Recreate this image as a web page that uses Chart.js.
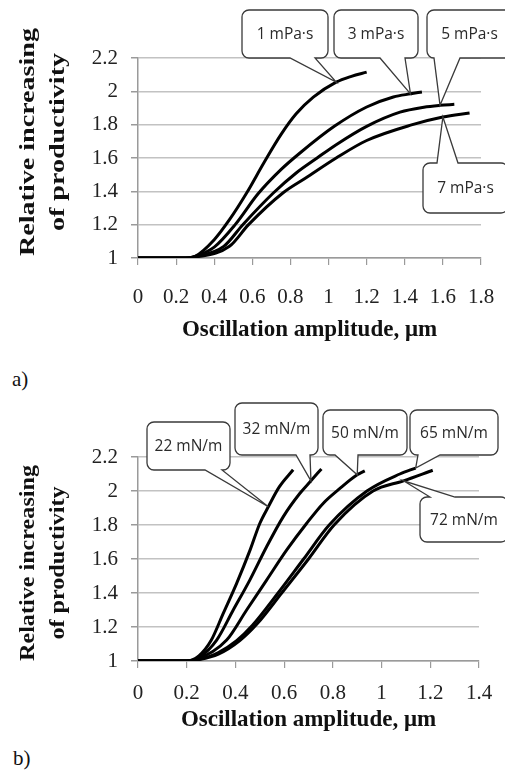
<!DOCTYPE html>
<html>
<head>
<meta charset="utf-8">
<script src="https://cdn.jsdelivr.net/npm/chart.js@4.4.1/dist/chart.umd.min.js"></script>
<style>
  html, body { margin: 0; padding: 0; background: #fff; }
  body { width: 505px; height: 778px; position: relative; overflow: hidden; }
  .box { position: absolute; left: 0; width: 505px; }
  #boxA { top: 0; height: 350px; }
  #boxB { top: 380px; height: 355px; }
  .tag { position: absolute; font: 21px "Liberation Serif", serif; color: #111; line-height: 24px; }
</style>
</head>
<body>
<div class="box" id="boxA"><canvas id="chartA"></canvas></div>
<span class="tag" style="left:12px; top:367px;">a)</span>
<div class="box" id="boxB"><canvas id="chartB"></canvas></div>
<span class="tag" style="left:13px; top:746px;">b)</span>
<script>
// texts
const yTitleLines = ['Relative increasing', 'of productivity'];
const xTitle = 'Oscillation amplitude, μm';

// tick values + labels
const yTickValues = [1, 1.2, 1.4, 1.6, 1.8, 2, 2.2];
const yTickLabels = ['1', '1.2', '1.4', '1.6', '1.8', '2', '2.2'];
const xTickValuesA = [0, 0.2, 0.4, 0.6, 0.8, 1, 1.2, 1.4, 1.6, 1.8];
const xTickLabelsA = ['0', '0.2', '0.4', '0.6', '0.8', '1', '1.2', '1.4', '1.6', '1.8'];
const xTickValuesB = [0, 0.2, 0.4, 0.6, 0.8, 1, 1.2, 1.4];
const xTickLabelsB = ['0', '0.2', '0.4', '0.6', '0.8', '1', '1.2', '1.4'];

// a) viscosity
const namesA = ['1 mPa·s', '3 mPa·s', '5 mPa·s', '7 mPa·s'];
const visc1X = [0, 0.25, 0.3, 0.4, 0.48, 0.57, 0.66, 0.75, 0.83, 0.92, 1.04, 1.12, 1.2];
const visc1Y = [1, 1, 1.01, 1.11, 1.23, 1.39, 1.57, 1.74, 1.865, 1.965, 2.055, 2.09, 2.115];
const visc3X = [0, 0.25, 0.3, 0.4, 0.51, 0.63, 0.75, 0.85, 1.03, 1.2, 1.34, 1.43, 1.49];
const visc3Y = [1, 1, 1.01, 1.065, 1.2, 1.385, 1.53, 1.63, 1.79, 1.906, 1.966, 1.985, 1.996];
const visc5X = [0, 0.25, 0.3, 0.45, 0.55, 0.71, 0.83, 0.94, 1.04, 1.2, 1.375, 1.5, 1.585, 1.66];
const visc5Y = [1, 1, 1.008, 1.07, 1.2, 1.39, 1.51, 1.6, 1.68, 1.79, 1.875, 1.905, 1.916, 1.922];
const visc7X = [0, 0.25, 0.3, 0.48, 0.58, 0.76, 0.88, 1.04, 1.2, 1.44, 1.6, 1.74];
const visc7Y = [1, 1, 1.005, 1.07, 1.2, 1.39, 1.48, 1.6, 1.705, 1.8, 1.846, 1.87];

// b) surface tension
const namesB = ['22 mN/m', '32 mN/m', '50 mN/m', '65 mN/m', '72 mN/m'];
const st22X = [0, 0.2, 0.25, 0.3, 0.35, 0.405, 0.46, 0.5, 0.535, 0.58, 0.637];
const st22Y = [1, 1, 1.03, 1.12, 1.28, 1.457, 1.652, 1.809, 1.907, 2.024, 2.125];
const st32X = [0, 0.2, 0.25, 0.323, 0.391, 0.459, 0.528, 0.596, 0.664, 0.71, 0.753];
const st32Y = [1, 1, 1.02, 1.123, 1.3, 1.476, 1.672, 1.848, 1.985, 2.06, 2.13];
const st50X = [0, 0.2, 0.25, 0.364, 0.446, 0.528, 0.61, 0.692, 0.76, 0.829, 0.9, 0.931];
const st50Y = [1, 1, 1.015, 1.123, 1.3, 1.476, 1.652, 1.809, 1.927, 2.015, 2.095, 2.118];
const st65X = [0, 0.2, 0.25, 0.33, 0.405, 0.47, 0.575, 0.68, 0.785, 0.94, 1.075, 1.14];
const st65Y = [1, 1, 1.01, 1.05, 1.12, 1.21, 1.4, 1.6, 1.8, 2.0, 2.1, 2.135];
const st72X = [0, 0.2, 0.25, 0.33, 0.418, 0.49, 0.59, 0.7, 0.805, 0.965, 1.09, 1.21];
const st72Y = [1, 1, 1.008, 1.04, 1.12, 1.22, 1.4, 1.6, 1.8, 2.0, 2.06, 2.122];

const serif = '"Liberation Serif", "Times New Roman", serif';
const axisGray = '#9a9a9a';

// callout boxes: box = [x, y, w, h] in canvas px, base = where the pointer leaves the box
const calloutsA = [
    { ds: 0, pt: 10, box: [242, 10, 86, 48], side: 'bottom', base: [290, 315] },
    { ds: 1, pt: 11, box: [334, 10, 84, 48], side: 'bottom', base: [380, 405] },
    { ds: 2, pt: 12, box: [427, 10, 85, 48], side: 'bottom', base: [434, 460] },
    { ds: 3, pt: 10, box: [423, 163, 85, 50], side: 'top', base: [437, 458] }
];
const calloutsB = [
    { ds: 0, pt: 8, box: [147, 42, 83, 48], side: 'bottom', base: [205, 222] },
    { ds: 1, pt: 9, box: [235, 23, 83, 52], side: 'bottom', base: [296, 310] },
    { ds: 2, pt: 10, box: [323, 30, 84, 45], side: 'bottom', base: [335, 358] },
    { ds: 3, pt: 11, box: [410, 30, 88, 45], side: 'bottom', base: [418, 440] },
    { ds: 4, pt: 10, box: [420, 117, 88, 45], side: 'top', base: [430, 455] }
];

function series(label, xs, ys) {
    return {
        label: label,
        data: xs.map((x, i) => ({ x: x, y: ys[i] })),
        borderColor: '#000',
        borderWidth: 3,
        pointRadius: 0,
        fill: false,
        cubicInterpolationMode: 'monotone'
    };
}

// 旋轉的 y 軸標題（稍微拉長）
function yTitlePlugin(centerY, length) {
    return {
        id: 'yTitle',
        afterDraw(chart) {
            const ctx = chart.ctx;
            ctx.save();
            ctx.font = 'bold 20px ' + serif;
            ctx.fillStyle = '#111';
            ctx.textAlign = 'center';
            ctx.textBaseline = 'middle';
            const stretch = length / ctx.measureText(yTitleLines[0]).width;
            const xs = [29, 59];
            yTitleLines.forEach((line, i) => {
                ctx.save();
                ctx.translate(xs[i], centerY);
                ctx.rotate(-Math.PI / 2);
                ctx.scale(stretch, 1);
                ctx.fillText(line, 0, 0);
                ctx.restore();
            });
            ctx.restore();
        }
    };
}

// 標註框
function calloutPlugin(items, names) {
    return {
        id: 'callouts',
        afterDatasetsDraw(chart) {
            const ctx = chart.ctx;
            const r = 7;
            items.forEach(c => {
                const el = chart.getDatasetMeta(c.ds).data[c.pt];
                const tx = el.x, ty = el.y;
                const [bx, by, bw, bh] = c.box;
                const x0 = bx, y0 = by, x1 = bx + bw, y1 = by + bh;
                const b0 = Math.max(c.base[0], x0 + r), b1 = Math.min(c.base[1], x1 - r);
                ctx.save();
                ctx.beginPath();
                ctx.moveTo(x0 + r, y0);
                if (c.side === 'top') {
                    ctx.lineTo(b0, y0);
                    ctx.lineTo(tx, ty);
                    ctx.lineTo(b1, y0);
                }
                ctx.lineTo(x1 - r, y0);
                ctx.arcTo(x1, y0, x1, y0 + r, r);
                ctx.lineTo(x1, y1 - r);
                ctx.arcTo(x1, y1, x1 - r, y1, r);
                if (c.side === 'bottom') {
                    ctx.lineTo(b1, y1);
                    ctx.lineTo(tx, ty);
                    ctx.lineTo(b0, y1);
                }
                ctx.lineTo(x0 + r, y1);
                ctx.arcTo(x0, y1, x0, y1 - r, r);
                ctx.lineTo(x0, y0 + r);
                ctx.arcTo(x0, y0, x0 + r, y0, r);
                ctx.closePath();
                ctx.fillStyle = '#fff';
                ctx.fill();
                ctx.strokeStyle = '#3a3a3a';
                ctx.lineWidth = 1.3;
                ctx.stroke();
                ctx.fillStyle = '#2a2a2a';
                ctx.font = '15.5px "Open Sans", sans-serif';
                ctx.textAlign = 'center';
                ctx.textBaseline = 'middle';
                ctx.fillText(names[c.ds], bx + bw / 2, by + bh / 2 + 1);
                ctx.restore();
            });
        }
    };
}

function buildChart(canvasId, cfg) {
    const ctx = document.getElementById(canvasId).getContext('2d');
    return new Chart(ctx, {
        type: 'line',
        data: { datasets: cfg.datasets },
        options: {
            responsive: true,
            maintainAspectRatio: false,
            animation: false,
            layout: { padding: { top: cfg.padTop, right: cfg.padRight, left: 0, bottom: 0 } },
            plugins: {
                legend: { display: false },
                tooltip: { enabled: false }
            },
            scales: {
                x: {
                    type: 'linear',
                    min: 0,
                    max: cfg.xTicks[cfg.xTicks.length - 1],
                    afterBuildTicks: s => { s.ticks = cfg.xTicks.map(v => ({ value: v })); },
                    // 固定軸高，並取消標籤造成的左右內距
                    afterFit: s => {
                        s.height = cfg.xAxisHeight;
                        s.paddingLeft = 0;
                        s.paddingRight = 0;
                    },
                    grid: { drawOnChartArea: false, drawTicks: true, tickLength: 7, color: axisGray, lineWidth: 1.2 },
                    border: { color: axisGray, width: 1.5 },
                    ticks: {
                        callback: (v, i) => cfg.xLabels[i],
                        font: { family: serif, size: 21 },
                        color: '#222',
                        padding: cfg.xTickPad,
                        maxRotation: 0,
                        autoSkip: false
                    },
                    title: {
                        display: true,
                        text: xTitle,
                        font: { family: serif, size: 23, weight: 'bold' },
                        color: '#111',
                        padding: { top: 0, bottom: cfg.xTitlePad }
                    }
                },
                y: {
                    min: 1,
                    max: 2.2,
                    afterBuildTicks: s => { s.ticks = yTickValues.map(v => ({ value: v })); },
                    afterFit: s => { s.width = 138; },
                    grid: { color: '#c2c2c2', lineWidth: 1.5, tickLength: 7, tickColor: axisGray },
                    border: { color: axisGray, width: 1.5 },
                    ticks: {
                        callback: (v, i) => yTickLabels[i],
                        font: { family: serif, size: 21 },
                        color: '#222',
                        padding: 13
                    }
                }
            }
        },
        plugins: [calloutPlugin(cfg.callouts, cfg.names), yTitlePlugin(cfg.titleY, cfg.titleLen)]
    });
}

buildChart('chartA', {
    datasets: [
        series(namesA[0], visc1X, visc1Y),
        series(namesA[1], visc3X, visc3Y),
        series(namesA[2], visc5X, visc5Y),
        series(namesA[3], visc7X, visc7Y)
    ],
    names: namesA,
    callouts: calloutsA,
    xTicks: xTickValuesA,
    xLabels: xTickLabelsA,
    padTop: 58,
    padRight: 24,
    xAxisHeight: 92,
    xTickPad: 20,
    xTitlePad: 6,
    titleY: 142,
    titleLen: 228
});

buildChart('chartB', {
    datasets: [
        series(namesB[0], st22X, st22Y),
        series(namesB[1], st32X, st32Y),
        series(namesB[2], st50X, st50Y),
        series(namesB[3], st65X, st65Y),
        series(namesB[4], st72X, st72Y)
    ],
    names: namesB,
    callouts: calloutsB,
    xTicks: xTickValuesB,
    xLabels: xTickLabelsB,
    padTop: 77,
    padRight: 26,
    xAxisHeight: 74,
    xTickPad: 13,
    xTitlePad: 1,
    titleY: 183,
    titleLen: 196
});
</script>
</body>
</html>
